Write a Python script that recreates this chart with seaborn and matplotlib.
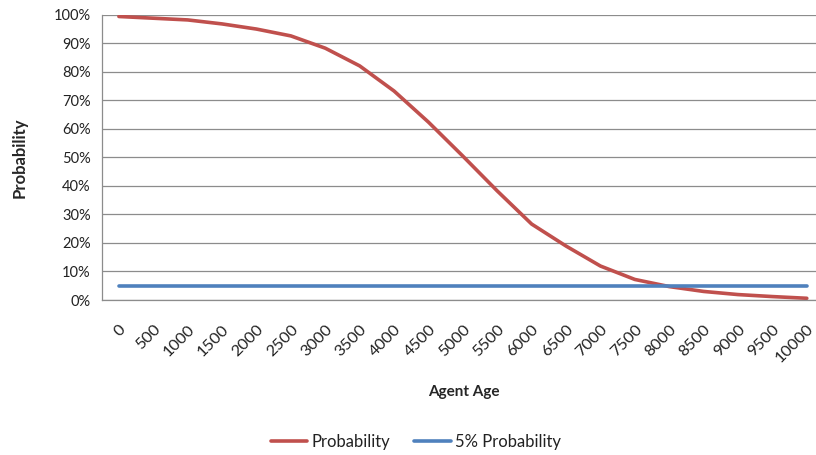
import matplotlib
matplotlib.use("Agg")
import matplotlib.pyplot as plt
import pandas as pd
import seaborn as sns
from matplotlib.ticker import FixedLocator, PercentFormatter

# data
ages = [0, 500, 1000, 1500, 2000, 2500, 3000, 3500, 4000, 4500, 5000,
        5500, 6000, 6500, 7000, 7500, 8000, 8500, 9000, 9500, 10000]
probability = [0.993, 0.987, 0.981, 0.967, 0.949, 0.925, 0.882, 0.820, 0.732, 0.623, 0.504,
               0.382, 0.266, 0.189, 0.119, 0.072, 0.047, 0.030, 0.019, 0.012, 0.006]
threshold = [0.05] * len(ages)

df = pd.DataFrame({
    "pos": list(range(len(ages))) * 2,
    "value": probability + threshold,
    "series": ["Probability"] * len(ages) + ["5% Probability"] * len(ages),
})

sns.set_style("white")
plt.rcParams["font.family"] = ["Lato", "DejaVu Sans"]

fig = plt.figure(figsize=(8.16, 4.55), dpi=100)
ax = fig.add_axes([101.7 / 816, 155 / 455, 722.3 / 816, 285.5 / 455])

sns.lineplot(data=df, x="pos", y="value", hue="series",
             palette={"Probability": "#C0504D", "5% Probability": "#4F81BD"},
             linewidth=2.6, ax=ax, legend=False)

ax.set_xlim(-0.5, len(ages) - 0.5)
ax.set_ylim(0, 1)
ax.yaxis.set_major_locator(FixedLocator([i / 10 for i in range(11)]))
ax.yaxis.set_major_formatter(PercentFormatter(1.0, decimals=0))
ax.grid(axis="y", color="#8c8c8c", linewidth=0.9)
ax.set_axisbelow(True)

# labels at categories, tick marks between categories
ax.set_xticks(range(len(ages)))
ax.set_xticklabels([str(a) for a in ages], rotation=45, ha="right",
                   rotation_mode="anchor", fontsize=11.8, color="#222222")
ax.xaxis.set_minor_locator(FixedLocator([i - 0.5 for i in range(len(ages) + 1)]))
ax.tick_params(axis="x", which="major", length=0, pad=16)
ax.tick_params(axis="x", which="minor", length=5, color="#8c8c8c", width=0.9, direction="out")
ax.tick_params(axis="y", length=5, color="#8c8c8c", width=0.9, direction="out",
               labelsize=10.5, labelcolor="#222222", pad=3)

for s in ["top", "right"]:
    ax.spines[s].set_visible(False)
for s in ["left", "bottom"]:
    ax.spines[s].set_color("#8c8c8c")
    ax.spines[s].set_linewidth(0.9)

ax.set_xlabel("")
ax.set_ylabel("")
fig.text(20 / 816, 1 - 158 / 455, "Probability", rotation=90, ha="center", va="center",
         fontsize=12, fontweight="bold")
fig.text(464 / 816, 1 - 392 / 455, "Agent Age", ha="center", va="center",
         fontsize=11, fontweight="bold")

handles = [plt.Line2D([], [], color="#C0504D", linewidth=2.6),
           plt.Line2D([], [], color="#4F81BD", linewidth=2.6)]
fig.legend(handles, ["Probability", "5% Probability"], loc="center",
           bbox_to_anchor=(416 / 816, 1 - 442 / 455), ncol=2, frameon=False,
           fontsize=12, handlelength=2.2, handletextpad=0.25, columnspacing=1.45,
           labelcolor="#222222")

fig.savefig("out.png", dpi=100)
